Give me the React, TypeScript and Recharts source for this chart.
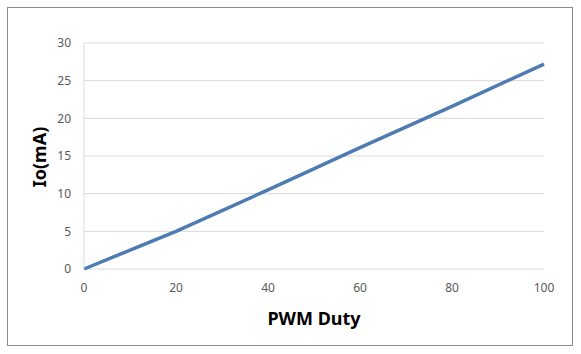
import { CartesianGrid, Line, LineChart, XAxis, YAxis } from "recharts";

const duty = [0, 20, 40, 60, 80, 100];
const current = [0, 5, 10.5, 16.1, 21.6, 27.2];
const xTicks = [0, 20, 40, 60, 80, 100];
const yTicks = [0, 5, 10, 15, 20, 25, 30];

const data = duty.map((d, i) => ({ duty: d, io: current[i] }));

const font = "'Noto Sans', sans-serif";

const App = () => {
  return (
    <div style={{ position: "absolute", left: 0, top: 0, width: 581, height: 354, fontFamily: font }}>
      <div
        style={{
          position: "absolute",
          left: 7,
          top: 7,
          width: 566,
          height: 339,
          boxSizing: "border-box",
          border: "1px solid #8c8c8c",
        }}
      />
      <div style={{ position: "absolute", left: 0, top: 0 }}>
        <LineChart width={581} height={354} data={data} margin={{ top: 43, right: 37, bottom: 55, left: 24 }}>
          <CartesianGrid vertical={false} stroke="#d9d9d9" />
          <XAxis
            dataKey="duty"
            type="number"
            domain={[0, 100]}
            ticks={xTicks}
            height={30}
            axisLine={false}
            tickLine={false}
            tickMargin={8}
            tick={{ fill: "#595959", fontSize: 12, fontFamily: font }}
          />
          <YAxis
            type="number"
            domain={[0, 30]}
            ticks={yTicks}
            width={60}
            axisLine={{ stroke: "#d9d9d9" }}
            tickLine={false}
            tickMargin={7}
            tick={{ fill: "#595959", fontSize: 12, fontFamily: font }}
          />
          <Line
            dataKey="io"
            type="linear"
            stroke="#4f7bb3"
            strokeWidth={3.5}
            dot={false}
            isAnimationActive={false}
          />
        </LineChart>
      </div>
      <div
        style={{
          position: "absolute",
          left: 314,
          top: 318,
          transform: "translate(-50%, -50%)",
          fontSize: 18,
          fontWeight: "bold",
          lineHeight: 1,
          whiteSpace: "nowrap",
          color: "#000",
        }}
      >
        PWM Duty
      </div>
      <div
        style={{
          position: "absolute",
          left: 38.5,
          top: 156.5,
          transform: "translate(-50%, -50%) rotate(-90deg)",
          fontSize: 18,
          fontWeight: "bold",
          lineHeight: 1,
          whiteSpace: "nowrap",
          color: "#000",
        }}
      >
        Io(mA)
      </div>
    </div>
  );
};

export default App;
